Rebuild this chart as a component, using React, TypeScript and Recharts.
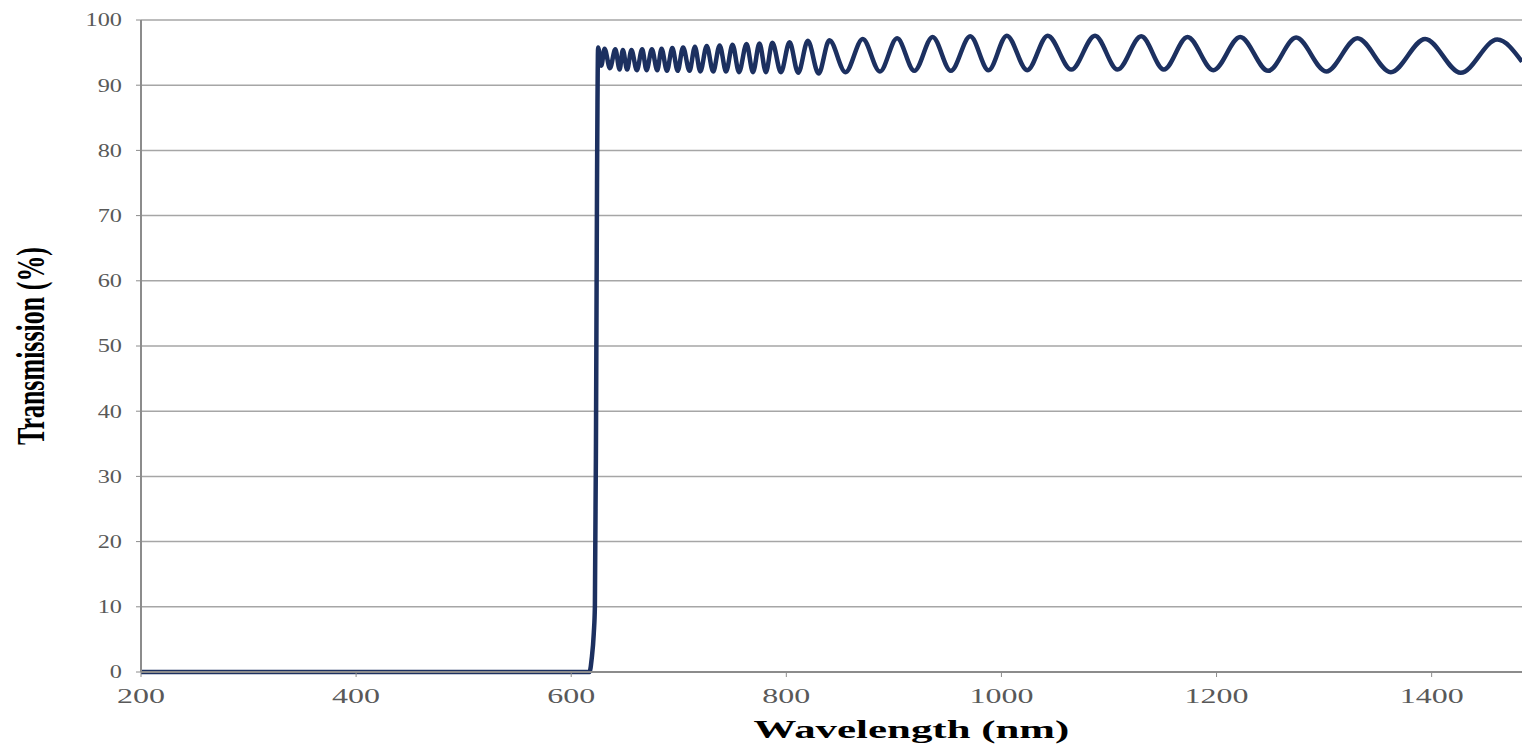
import { LineChart, Line, XAxis, YAxis, CartesianGrid, Label } from 'recharts';

// cut-on edge of the filter
const edgeNm = [200, 617, 619, 621, 622, 623, 624, 625];
const edgePct = [0, 0, 2, 6, 10, 35, 75, 95.8];

// ripple in the pass band (troughs and peaks)
const fringeNm = [
  628, 631, 636, 641, 645, 648, 652, 656, 661, 666, 670, 675, 680, 684, 689, 694, 699, 704, 710, 715,
  720, 726, 732, 738, 744, 750, 756, 763, 769, 775, 781, 787, 795, 803, 811, 820, 830, 840, 855, 871,
  887, 903, 919, 936, 953, 971, 988, 1005, 1024, 1043, 1065, 1087, 1108, 1130, 1151, 1173, 1197, 1222,
  1248, 1274, 1302, 1331, 1362, 1394, 1427, 1461, 1484,
];
const fringePct = [
  93.0, 95.6, 92.6, 95.5, 92.4, 95.4, 92.4, 95.4, 92.3, 95.5, 92.3, 95.5, 92.3, 95.6, 92.2, 95.7, 92.2, 95.8, 92.2, 95.9,
  92.1, 96.0, 92.1, 96.1, 92.1, 96.2, 92.0, 96.3, 92.0, 96.4, 92.0, 96.5, 92.0, 96.6, 91.9, 96.8, 91.8, 96.9, 92.0, 97.1,
  92.1, 97.2, 92.2, 97.4, 92.2, 97.5, 92.3, 97.6, 92.3, 97.6, 92.4, 97.6, 92.4, 97.5, 92.4, 97.4, 92.3, 97.4,
  92.2, 97.3, 92.1, 97.2, 92.0, 97.1, 91.9, 97.0, 93.6,
];

const xTicks = [200, 400, 600, 800, 1000, 1200, 1400];
const yTicks = [0, 10, 20, 30, 40, 50, 60, 70, 80, 90, 100];

const data = [
  ...edgeNm.map((nm, i) => ({ nm, pct: edgePct[i] })),
  ...fringeNm.map((nm, i) => ({ nm, pct: fringePct[i] })),
];

const serif = '"Liberation Serif", "Times New Roman", serif';

const XTick = ({ x, y, payload }: any) => (
  <g transform={`translate(${x},${y}) scale(1.6,1)`}>
    <text x={0} y={0} dy="0.71em" textAnchor="middle" fill="#595959" fontFamily={serif} fontSize={20}>
      {payload.value}
    </text>
  </g>
);

const YTick = ({ x, y, payload }: any) => (
  <g transform={`translate(${x},${y}) scale(1.35,1)`}>
    <text x={0} y={0} dy="0.35em" textAnchor="end" fill="#595959" fontFamily={serif} fontSize={18}>
      {payload.value}
    </text>
  </g>
);

const XTitle = ({ viewBox }: any) => {
  const cx = viewBox.x + viewBox.width / 2 + 80;
  const cy = viewBox.y + 66;
  return (
    <g transform={`translate(${cx},${cy}) scale(1.65,1)`}>
      <text x={0} y={0} textAnchor="middle" fill="#000" fontFamily={serif} fontWeight="bold" fontSize={26}>
        Wavelength (nm)
      </text>
    </g>
  );
};

const YTitle = ({ viewBox }: any) => {
  const cx = viewBox.x + 30;
  const cy = viewBox.y + viewBox.height / 2;
  return (
    <g transform={`translate(${cx},${cy}) rotate(-90)`}>
      <text x={0} y={0} dy="0.35em" transform="scale(1,1.5)" textAnchor="middle" fill="#000" fontFamily={serif} fontWeight="bold" fontSize={26}>
        Transmission (%)
      </text>
    </g>
  );
};

export default function App() {
  return (
    <div style={{ position: 'absolute', left: 0, top: 0, width: 1522, height: 751, background: '#fff' }}>
      <LineChart width={1522} height={751} data={data} margin={{ top: 20, right: 0, bottom: 0, left: 0 }}>
        <CartesianGrid vertical={false} stroke="#a6a6a6" strokeWidth={1.5} />
        <XAxis
          dataKey="nm"
          type="number"
          domain={[200, 1484]}
          ticks={xTicks}
          allowDataOverflow
          height={79}
          tickSize={5}
          tickMargin={12}
          tick={<XTick />}
          axisLine={{ stroke: '#8c8c8c', strokeWidth: 2 }}
          tickLine={{ stroke: '#8c8c8c' }}
        >
          <Label content={<XTitle />} />
        </XAxis>
        <YAxis
          type="number"
          domain={[0, 100]}
          ticks={yTicks}
          width={141}
          tickSize={5}
          tickMargin={14}
          tick={<YTick />}
          axisLine={{ stroke: '#8c8c8c', strokeWidth: 2 }}
          tickLine={{ stroke: '#8c8c8c' }}
        >
          <Label content={<YTitle />} />
        </YAxis>
        <Line
          type="monotone"
          dataKey="pct"
          stroke="#1c3060"
          strokeWidth={4.5}
          dot={false}
          isAnimationActive={false}
        />
      </LineChart>
    </div>
  );
}
